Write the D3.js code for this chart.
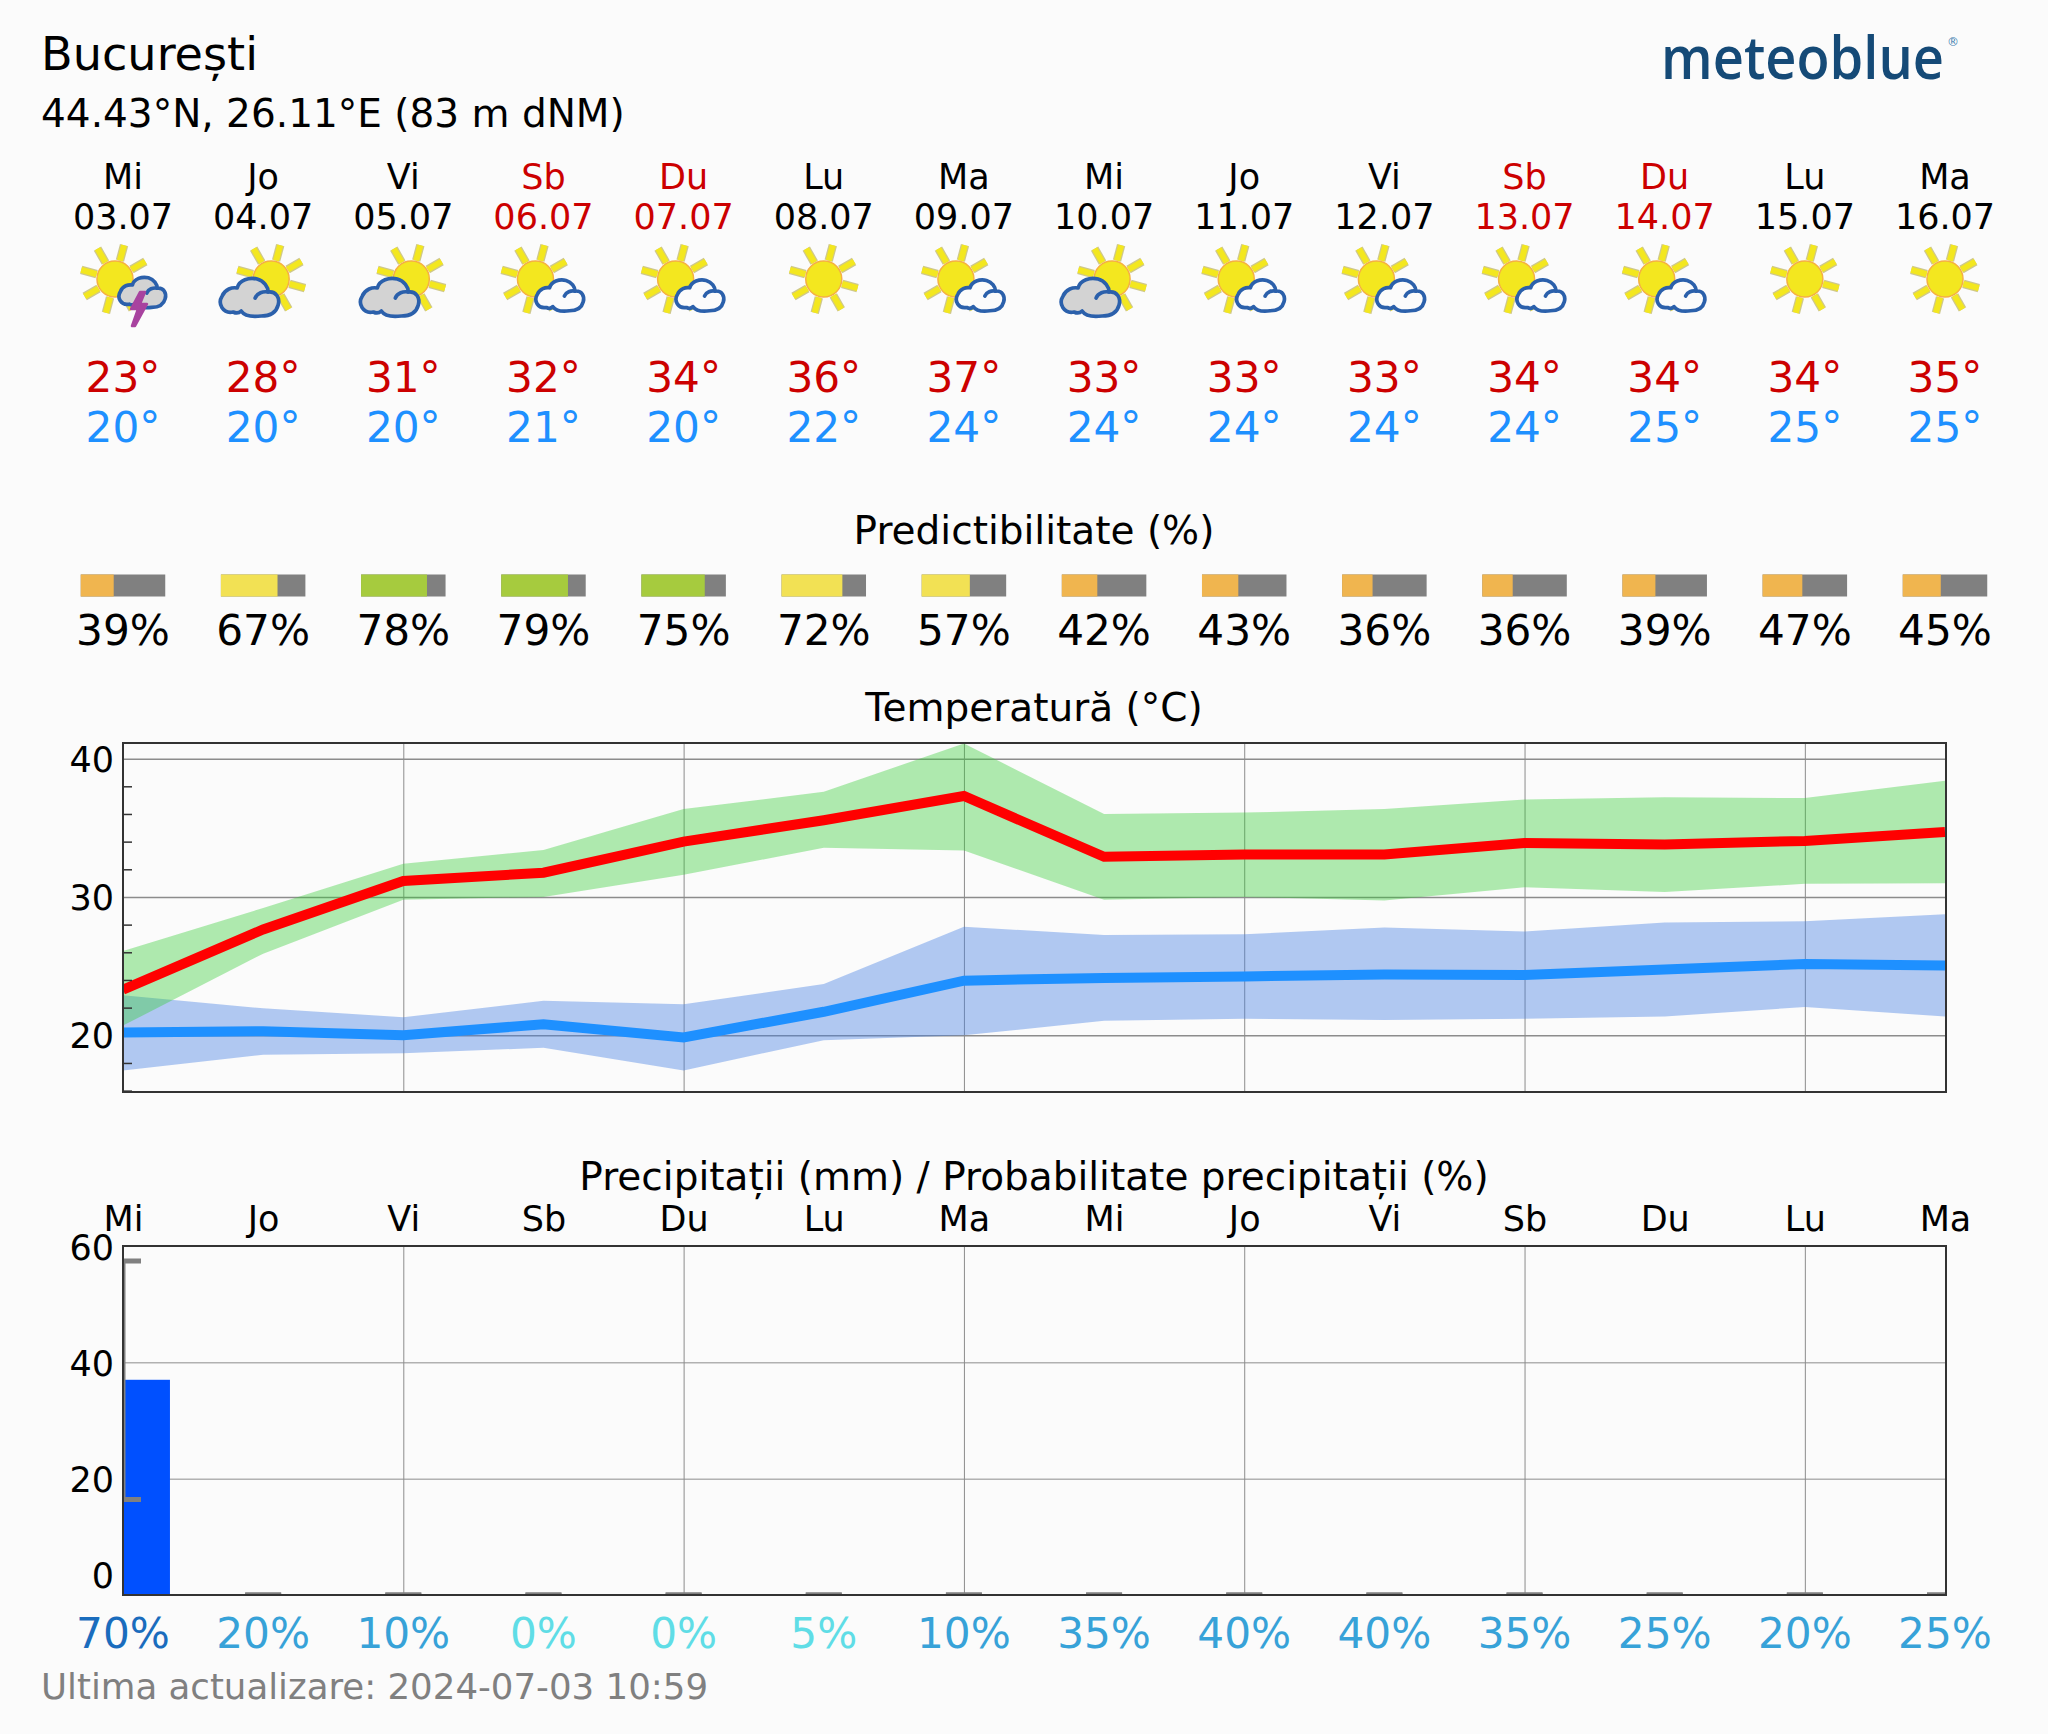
<!DOCTYPE html>
<html>
<head>
<meta charset="utf-8">
<script src="https://cdnjs.cloudflare.com/ajax/libs/d3/7.8.5/d3.min.js"></script>
<style>
html, body { margin: 0; padding: 0; background: #fbfbfb; }
svg { display: block; }
text { font-family: "DejaVu Sans", sans-serif; fill: #000; }
.domain { display: none; }
</style>
</head>
<body>
<script>
"use strict"

const place = 'București';
const coords = '44.43°N, 26.11°E (83 m dNM)';
const updated = 'Ultima actualizare: 2024-07-03 10:59';
const days = ['Mi', 'Jo', 'Vi', 'Sb', 'Du', 'Lu', 'Ma', 'Mi', 'Jo', 'Vi', 'Sb', 'Du', 'Lu', 'Ma'];
const dates = ['03.07', '04.07', '05.07', '06.07', '07.07', '08.07', '09.07', '10.07', '11.07', '12.07', '13.07', '14.07', '15.07', '16.07'];
const icons = ['storm', 'cloudy', 'cloudy', 'fair', 'fair', 'sun', 'fair', 'cloudy', 'fair', 'fair', 'fair', 'fair', 'sun', 'sun'];
const dayMax = [23, 28, 31, 32, 34, 36, 37, 33, 33, 33, 34, 34, 34, 35];
const dayMin = [20, 20, 20, 21, 20, 22, 24, 24, 24, 24, 24, 25, 25, 25];
const predict = [39, 67, 78, 79, 75, 72, 57, 42, 43, 36, 36, 39, 47, 45];

const tMax = [23.3, 27.65, 31.15, 31.75, 34.0, 35.55, 37.3, 32.9, 33.07, 33.07, 33.9, 33.8, 34.05, 34.7];
const tMaxHigh = [26.1, 29.2, 32.4, 33.4, 36.35, 37.6, 41.1, 36.0, 36.1, 36.35, 37.05, 37.2, 37.15, 38.4];
const tMaxLow = [20.7, 25.9, 29.8, 30.0, 31.6, 33.55, 33.35, 29.8, 30.0, 29.75, 30.7, 30.35, 30.95, 31.0];
const tMin = [20.2, 20.3, 20.0, 20.8, 19.85, 21.7, 23.95, 24.15, 24.25, 24.4, 24.35, 24.75, 25.15, 25.05];
const tMinHigh = [22.9, 21.95, 21.3, 22.5, 22.25, 23.7, 27.85, 27.25, 27.3, 27.8, 27.5, 28.15, 28.25, 28.75];
const tMinLow = [17.45, 18.6, 18.7, 19.1, 17.45, 19.65, 20.0, 21.05, 21.2, 21.1, 21.2, 21.35, 22.05, 21.35];

const precip = [37, 0, 0, 0, 0, 0, 0, 0, 0, 0, 0, 0, 0, 0];
const precipHigh = [57.4, 0, 0, 0, 0, 0, 0, 0, 0, 0, 0, 0, 0, 0];
const precipLow = [16.4, 0, 0, 0, 0, 0, 0, 0, 0, 0, 0, 0, 0, 0];
const precipProb = [70, 20, 10, 0, 0, 5, 10, 35, 40, 40, 35, 25, 20, 25];

const w = 2048;
const h = 1734;
const left = 123;
const right = 1945;
const idx = days.map((d, i) => i);
const weekend = d => d === 'Sb' || d === 'Du';

const xScale = d3.scaleLinear().domain([0, 13]).range([left, right]);
const step = xScale(1) - xScale(0);

const mySvg = d3.select('body').append('svg')
	.attr('width', w)
	.attr('height', h);

mySvg.append('rect').attr('width', w).attr('height', h).attr('fill', '#fbfbfb');

function label(txt, x, y, size, anchor, color) {
	return mySvg.append('text')
		.attr('x', x)
		.attr('y', y)
		.attr('font-size', size)
		.attr('text-anchor', anchor || 'start')
		.style('fill', color || '#000')
		.text(txt);
}

// header
label(place, 41, 70, 46.2);
label(coords, 41, 127, 39);
label(updated, 41, 1699, 35.6, 'start', '#808080');

mySvg.append('text')
	.attr('x', 1661)
	.attr('y', 79)
	.attr('font-size', 60)
	.attr('textLength', 283)
	.attr('lengthAdjust', 'spacingAndGlyphs')
	.style('font-family', '"Open Sans", sans-serif')
	.style('font-weight', 600)
	.style('fill', '#154a77')
	.text('meteoblue');
mySvg.append('text')
	.attr('x', 1947)
	.attr('y', 46)
	.attr('font-size', 12)
	.style('fill', '#3f7fb0')
	.text('®');

function columnText(values, y, size, color) {
	mySvg.append('g').selectAll('text')
		.data(values)
		.enter()
		.append('text')
		.attr('x', (d, i) => xScale(i))
		.attr('y', y)
		.attr('font-size', size)
		.attr('text-anchor', 'middle')
		.style('fill', color)
		.text(d => d);
}

mySvg.append('g').selectAll('text')
	.data(days)
	.enter()
	.append('text')
	.attr('x', (d, i) => xScale(i))
	.attr('y', 189)
	.attr('font-size', 35)
	.attr('text-anchor', 'middle')
	.style('fill', d => weekend(d) ? '#cc0000' : '#000')
	.text(d => d);

mySvg.append('g').selectAll('text')
	.data(dates)
	.enter()
	.append('text')
	.attr('x', (d, i) => xScale(i))
	.attr('y', 229)
	.attr('font-size', 35)
	.attr('text-anchor', 'middle')
	.style('fill', (d, i) => weekend(days[i]) ? '#cc0000' : '#000')
	.text(d => d);

columnText(dayMax.map(d => d + '°'), 392, 42.2, '#cc0000');
columnText(dayMin.map(d => d + '°'), 442, 42.2, '#1e90ff');

// weather icons
const rayAngles = [-120, -75, -30, 15, 60, 105, 150, 195];
const cloudPath = 'M-16 14 C-26 16 -32 6 -27 -2 C-24 -9 -17 -11 -12 -10 C-10 -18 0 -21 8 -19 C15 -17 19 -11 19 -6 C27 -7 31 0 29 7 C27 15 20 18 12 18 C4 19 -4 19 -8 13 C-11 16 -14 15 -16 14 Z';
const cloudCurl = 'M6 0 C8 -5 14 -7 19 -6';

function drawSun(g, cx, cy) {
	const sun = g.append('g').attr('transform', 'translate(' + cx + ',' + cy + ')');
	rayAngles.forEach(a => {
		const rad = a * Math.PI / 180;
		[['#cfc88a', 8.5], ['#f3e71f', 6]].forEach(s => {
			sun.append('line')
				.attr('x1', 19 * Math.cos(rad))
				.attr('y1', 19 * Math.sin(rad))
				.attr('x2', 35 * Math.cos(rad))
				.attr('y2', 35 * Math.sin(rad))
				.attr('stroke', s[0])
				.attr('stroke-width', s[1]);
		});
	});
	sun.append('circle')
		.attr('r', 18)
		.attr('fill', '#f3e71f')
		.attr('stroke', '#f5b042')
		.attr('stroke-width', 1.5);
}

function drawCloud(g, cx, cy, k, fill) {
	const c = g.append('g').attr('transform', 'translate(' + cx + ',' + cy + ') scale(' + k + ')');
	c.append('path')
		.attr('d', cloudPath)
		.attr('fill', fill)
		.attr('stroke', '#2b60ab')
		.attr('stroke-width', 3.7 / k)
		.attr('stroke-linejoin', 'round');
	c.append('path')
		.attr('d', cloudCurl)
		.attr('fill', 'none')
		.attr('stroke', '#2b60ab')
		.attr('stroke-width', 3.7 / k)
		.attr('stroke-linecap', 'round');
}

icons.forEach((type, i) => {
	const g = mySvg.append('g').attr('transform', 'translate(' + xScale(i) + ',0)');
	if (type === 'sun') {
		drawSun(g, 0, 279);
	} else if (type === 'cloudy') {
		drawSun(g, 8, 279);
		drawCloud(g, -14, 298, 1, '#d3d3d3');
	} else if (type === 'fair') {
		drawSun(g, -8, 279);
		drawCloud(g, 16, 296, 0.82, '#fbfbfb');
	} else {
		drawSun(g, -8, 279);
		drawCloud(g, 19, 293, 0.8, '#d3d3d3');
		g.append('path')
			.attr('d', 'M17 292 L8 309 L15 309 L9 326 L12 326 L24 304 L17 304 L22 292 Z')
			.attr('fill', '#a8439f')
			.attr('stroke', '#a8439f')
			.attr('stroke-width', 2.5)
			.attr('stroke-linejoin', 'round');
	}
});

// predictability
label('Predictibilitate (%)', (left + right) / 2, 544, 39, 'middle');
const barWidth = 84.5;
const predictColor = d3.scaleThreshold()
	.domain([50, 75])
	.range(['#f0b54f', '#f2e154', '#a6cb3e']);
const predictScale = d3.scaleLinear().domain([0, 100]).range([0, barWidth]);

const predictG = mySvg.append('g').selectAll('g')
	.data(predict)
	.enter()
	.append('g')
	.attr('transform', (d, i) => 'translate(' + (xScale(i) - barWidth / 2) + ',574.5)');
predictG.append('rect')
	.attr('width', barWidth)
	.attr('height', 22)
	.attr('fill', '#808080');
predictG.append('rect')
	.attr('width', d => predictScale(d))
	.attr('height', 22)
	.attr('fill', d => predictColor(d));
columnText(predict.map(d => d + '%'), 645, 42.2, '#000');

// temperature panel
const tTop = 743;
const tBottom = 1092;
const yTemp = d3.scaleLinear().domain([15.9, 41.13]).range([tBottom, tTop]);

label('Temperatură (°C)', (left + right) / 2, 721, 39, 'middle');

const tempG = mySvg.append('g');

const gridStyle = sel => sel.selectAll('line').attr('stroke', '#8c8c8c').attr('stroke-width', 1);

tempG.append('g')
	.attr('transform', 'translate(' + left + ',0)')
	.call(d3.axisLeft(yTemp).tickValues([20, 30, 40]).tickSize(-(right - left)).tickFormat(''))
	.call(gridStyle)
	.selectAll('line').attr('stroke-width', 1.5);

tempG.append('g')
	.attr('transform', 'translate(0,' + tBottom + ')')
	.call(d3.axisBottom(xScale).tickValues(idx.filter(i => i % 2 === 0 && i > 0 && i < 13)).tickSize(-(tBottom - tTop)).tickFormat(''))
	.call(gridStyle);

const band = (hi, lo) => d3.area()
	.x(i => xScale(i))
	.y0(i => yTemp(lo[i]))
	.y1(i => yTemp(hi[i]));
const tempLine = v => d3.line()
	.x(i => xScale(i))
	.y(i => yTemp(v[i]));

mySvg.append('clipPath').attr('id', 'tempClip')
	.append('rect')
	.attr('x', left)
	.attr('y', tTop)
	.attr('width', right - left)
	.attr('height', tBottom - tTop);

const tempMarks = tempG.append('g').attr('clip-path', 'url(#tempClip)');

tempMarks.append('path').datum(idx)
	.attr('d', band(tMinHigh, tMinLow))
	.attr('fill', 'rgb(65,125,228)')
	.attr('fill-opacity', 0.4);
tempMarks.append('path').datum(idx)
	.attr('d', band(tMaxHigh, tMaxLow))
	.attr('fill', 'rgb(50,205,50)')
	.attr('fill-opacity', 0.38);
tempMarks.append('path').datum(idx)
	.attr('d', tempLine(tMin))
	.attr('fill', 'none')
	.attr('stroke', '#1e90ff')
	.attr('stroke-width', 10);
tempMarks.append('path').datum(idx)
	.attr('d', tempLine(tMax))
	.attr('fill', 'none')
	.attr('stroke', '#ff0000')
	.attr('stroke-width', 10);

// minor ticks point into the panel
tempG.append('g')
	.attr('transform', 'translate(' + left + ',0)')
	.call(d3.axisRight(yTemp).tickValues([16, 18, 22, 24, 26, 28, 32, 34, 36, 38]).tickSize(9).tickFormat(''))
	.selectAll('line')
	.attr('stroke', '#333')
	.attr('stroke-width', 1.5);

tempG.append('g')
	.attr('transform', 'translate(' + left + ',0)')
	.call(d3.axisLeft(yTemp).tickValues([20, 30, 40]).tickSize(0).tickPadding(9))
	.call(g => g.selectAll('text').attr('font-size', 35).attr('font-family', null).attr('dy', '0.36em'));

tempG.append('rect')
	.attr('x', left)
	.attr('y', tTop)
	.attr('width', right - left + 1)
	.attr('height', tBottom - tTop)
	.attr('fill', 'none')
	.attr('stroke', '#333')
	.attr('stroke-width', 2);

// precipitation panel
const pTop = 1246;
const pBottom = 1595;
const yPrecip = d3.scaleLinear().domain([0, 60]).range([pBottom, pTop]);
const precipColor = d3.scaleThreshold()
	.domain([10, 50])
	.range(['#5fdde6', '#37a2d8', '#1a6cbd']);

label('Precipitații (mm) / Probabilitate precipitații (%)', (left + right) / 2, 1190, 39, 'middle');

const precipG = mySvg.append('g');

precipG.append('g')
	.attr('transform', 'translate(' + left + ',0)')
	.call(d3.axisLeft(yPrecip).tickValues([20, 40, 60]).tickSize(-(right - left)).tickFormat(''))
	.call(gridStyle);

precipG.append('g')
	.attr('transform', 'translate(0,' + pBottom + ')')
	.call(d3.axisBottom(xScale).tickValues(idx.filter(i => i % 2 === 0 && i > 0 && i < 13)).tickSize(-(pBottom - pTop)).tickFormat(''))
	.call(gridStyle);

mySvg.append('clipPath').attr('id', 'precipClip')
	.append('rect')
	.attr('x', left)
	.attr('y', pTop)
	.attr('width', right - left)
	.attr('height', pBottom - pTop);

const precipMarks = precipG.append('g').attr('clip-path', 'url(#precipClip)');
const precipBar = step * 0.67;
const capWidth = 36;

precipMarks.selectAll('rect')
	.data(precip)
	.enter()
	.append('rect')
	.attr('x', (d, i) => xScale(i) - precipBar / 2)
	.attr('y', d => yPrecip(d))
	.attr('width', precipBar)
	.attr('height', d => pBottom - yPrecip(d))
	.attr('fill', '#0050ff');

precipMarks.selectAll('line.err')
	.data(precip)
	.enter()
	.append('line')
	.attr('class', 'err')
	.attr('x1', (d, i) => xScale(i))
	.attr('x2', (d, i) => xScale(i))
	.attr('y1', (d, i) => yPrecip(precipHigh[i]))
	.attr('y2', (d, i) => yPrecip(precipLow[i]))
	.attr('stroke', '#808080')
	.attr('stroke-width', 5);

[precipHigh, precipLow].forEach(v => {
	precipMarks.append('g').selectAll('line')
		.data(v)
		.enter()
		.append('line')
		.attr('x1', (d, i) => xScale(i) - capWidth / 2)
		.attr('x2', (d, i) => xScale(i) + capWidth / 2)
		.attr('y1', d => yPrecip(d))
		.attr('y2', d => yPrecip(d))
		.attr('stroke', '#808080')
		.attr('stroke-width', 5);
});

precipG.append('g')
	.attr('transform', 'translate(' + left + ',0)')
	.call(d3.axisLeft(yPrecip).tickValues([0, 20, 40, 60]).tickSize(0).tickPadding(9))
	.call(g => g.selectAll('text')
		.attr('font-size', 35)
		.attr('font-family', null)
		.attr('dy', d => d === 0 ? '-0.22em' : '0.38em'));

precipG.append('g')
	.attr('transform', 'translate(0,' + pTop + ')')
	.call(d3.axisTop(xScale).tickValues(idx).tickSize(0).tickPadding(15).tickFormat(i => days[i]))
	.call(g => g.selectAll('text').attr('font-size', 35).attr('font-family', null));

precipG.append('rect')
	.attr('x', left)
	.attr('y', pTop)
	.attr('width', right - left + 1)
	.attr('height', pBottom - pTop)
	.attr('fill', 'none')
	.attr('stroke', '#333')
	.attr('stroke-width', 2);

mySvg.append('g').selectAll('text')
	.data(precipProb)
	.enter()
	.append('text')
	.attr('x', (d, i) => xScale(i))
	.attr('y', 1648)
	.attr('font-size', 42.2)
	.attr('text-anchor', 'middle')
	.style('fill', d => precipColor(d))
	.text(d => d + '%');
</script>
</body>
</html>
